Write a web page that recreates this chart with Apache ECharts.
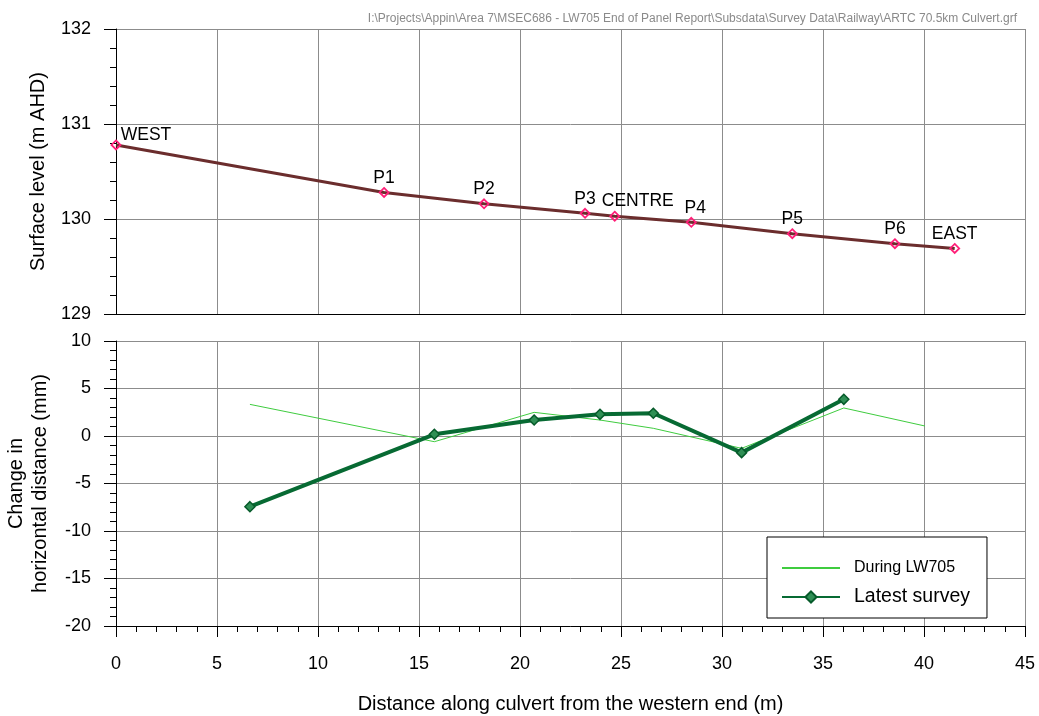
<!DOCTYPE html>
<html>
<head>
<meta charset="utf-8">
<script src="https://cdn.jsdelivr.net/npm/echarts@6/dist/echarts.min.js"></script>
<style>
  html, body { margin: 0; padding: 0; background: #fff; }
  #chart { width: 1039px; height: 716px; }
</style>
</head>
<body>
<div id="chart"></div>
<script>
// Surface profile along the culvert
const profileStations = ['WEST', 'P1', 'P2', 'P3', 'CENTRE', 'P4', 'P5', 'P6', 'EAST'];
const profileDistance = [0, 13.27, 18.22, 23.22, 24.69, 28.48, 33.48, 38.56, 41.52];
const surfaceLevel = [130.78, 130.28, 130.16, 130.06, 130.03, 129.965, 129.845, 129.74, 129.69];

// Change in horizontal distance between survey pegs (mm)
const latestDistance = [6.63, 15.76, 20.7, 23.96, 26.6, 30.97, 36.03];
const latestChange = [-7.44, 0.18, 1.68, 2.28, 2.39, -1.75, 3.86];
const duringDistance = [6.63, 15.76, 20.7, 23.96, 26.6, 30.97, 36.03, 40.05];
const duringChange = [3.33, -0.6, 2.49, 1.68, 0.81, -1.3, 2.95, 1.05];

// Axis ranges and ticks
const distanceTicks = { min: 0, max: 45, interval: 5 };
const levelTicks = { min: 129, max: 132, interval: 1 };
const changeTicks = { min: -20, max: 10, interval: 5 };

const FONT = "'Liberation Sans', Arial, sans-serif";
const GRID_COLOR = '#8c8c8c';

// nudges for station labels that sit beside their marker
const stationLabelShift = { WEST: [30, 5], CENTRE: [23, -1], P4: [4, 0] };

const pairs = (xs, ys) => xs.map((x, i) => [x, ys[i]]);

const profileData = profileDistance.map((d, i) => {
  const name = profileStations[i];
  const item = { name: name, value: [d, surfaceLevel[i]] };
  if (stationLabelShift[name]) item.label = { offset: stationLabelShift[name] };
  return item;
});

const chart = echarts.init(document.getElementById('chart'), null, { renderer: 'canvas' });

const commonX = {
  type: 'value',
  min: distanceTicks.min, max: distanceTicks.max, interval: distanceTicks.interval,
  splitLine: { show: true, lineStyle: { color: GRID_COLOR, width: 1 } },
  axisLine: { show: true, onZero: false, lineStyle: { color: '#000', width: 1 } }
};

const tickLabel = { fontSize: 18, color: '#000', margin: 25, fontFamily: FONT };
const axisName = { fontSize: 20, color: '#000', fontFamily: FONT };

chart.setOption({
  animation: false,
  backgroundColor: '#fff',
  textStyle: { fontFamily: FONT },
  title: {
    text: 'I:\\Projects\\Appin\\Area 7\\MSEC686 - LW705 End of Panel Report\\Subsdata\\Survey Data\\Railway\\ARTC 70.5km Culvert.grf',
    right: 17, top: 8,
    textStyle: { fontSize: 12, fontWeight: 'normal', color: '#8a8a8a', fontFamily: FONT }
  },
  legend: {
    orient: 'vertical',
    left: 767, top: 537,
    backgroundColor: '#fff',
    borderColor: '#000', borderWidth: 1, borderRadius: 0,
    padding: [23, 17, 11, 14],
    itemWidth: 58, itemHeight: 14, itemGap: 11,
    textStyle: { color: '#000', fontFamily: FONT, padding: [0, 0, 0, 9] },
    data: [
      { name: 'During LW705', textStyle: { fontSize: 16 }, itemStyle: { opacity: 0 } },
      { name: 'Latest survey', textStyle: { fontSize: 19.5 } }
    ]
  },
  grid: [
    { left: 116, top: 29, width: 909, height: 285, containLabel: false, outerBoundsMode: 'none' },
    { left: 116, top: 341, width: 909, height: 285, containLabel: false, outerBoundsMode: 'none' }
  ],
  xAxis: [
    Object.assign({}, commonX, {
      gridIndex: 0,
      axisTick: { show: false },
      axisLabel: { show: false }
    }),
    Object.assign({}, commonX, {
      gridIndex: 1,
      name: 'Distance along culvert from the western end (m)',
      nameLocation: 'middle', nameGap: 68,
      nameTextStyle: axisName,
      axisTick: { show: true, inside: false, length: 11, lineStyle: { color: '#000' } },
      minorTick: { show: true, splitNumber: 5, length: 6, lineStyle: { color: '#000' } },
      axisLabel: Object.assign({}, tickLabel, { margin: 29 })
    })
  ],
  yAxis: [
    {
      type: 'value', gridIndex: 0,
      min: levelTicks.min, max: levelTicks.max, interval: levelTicks.interval,
      name: 'Surface level (m AHD)',
      nameLocation: 'middle', nameGap: 68,
      nameTextStyle: axisName,
      axisLine: { show: true, onZero: false, lineStyle: { color: '#000' } },
      axisTick: { show: true, inside: false, length: 12, lineStyle: { color: '#000' } },
      minorTick: { show: true, splitNumber: 5, length: 6, lineStyle: { color: '#000' } },
      axisLabel: tickLabel,
      splitLine: { show: true, lineStyle: { color: GRID_COLOR, width: 1 } }
    },
    {
      type: 'value', gridIndex: 1,
      min: changeTicks.min, max: changeTicks.max, interval: changeTicks.interval,
      name: 'Change in\nhorizontal distance (mm)',
      nameLocation: 'middle', nameGap: 64,
      nameTextStyle: Object.assign({}, axisName, { lineHeight: 24 }),
      axisLine: { show: true, onZero: false, lineStyle: { color: '#000' } },
      axisTick: { show: true, inside: false, length: 12, lineStyle: { color: '#000' } },
      minorTick: { show: true, splitNumber: 5, length: 6, lineStyle: { color: '#000' } },
      axisLabel: tickLabel,
      splitLine: { show: true, lineStyle: { color: GRID_COLOR, width: 1 } }
    }
  ],
  series: [
    {
      name: 'Surface level',
      type: 'line',
      xAxisIndex: 0, yAxisIndex: 0,
      data: profileData,
      symbol: 'diamond', symbolSize: 9,
      lineStyle: { color: '#6b2d2d', width: 3 },
      itemStyle: { color: 'rgba(0,0,0,0)', borderColor: '#ff1f78', borderWidth: 1.8 },
      label: {
        show: true, position: 'top', distance: 0,
        formatter: p => p.name,
        fontSize: 17.5, color: '#000', fontFamily: FONT
      },
      z: 3
    },
    {
      name: 'During LW705',
      type: 'line',
      xAxisIndex: 1, yAxisIndex: 1,
      data: pairs(duringDistance, duringChange),
      symbol: 'none',
      lineStyle: { color: '#3fcc3f', width: 1 },
      itemStyle: { color: '#3fcc3f' },
      z: 3
    },
    {
      name: 'Latest survey',
      type: 'line',
      xAxisIndex: 1, yAxisIndex: 1,
      data: pairs(latestDistance, latestChange),
      symbol: 'diamond', symbolSize: 10,
      lineStyle: { color: '#076a33', width: 4 },
      itemStyle: { color: '#2f8f55', borderColor: '#065a2a', borderWidth: 1.5 },
      z: 4
    }
  ]
});
</script>
</body>
</html>
